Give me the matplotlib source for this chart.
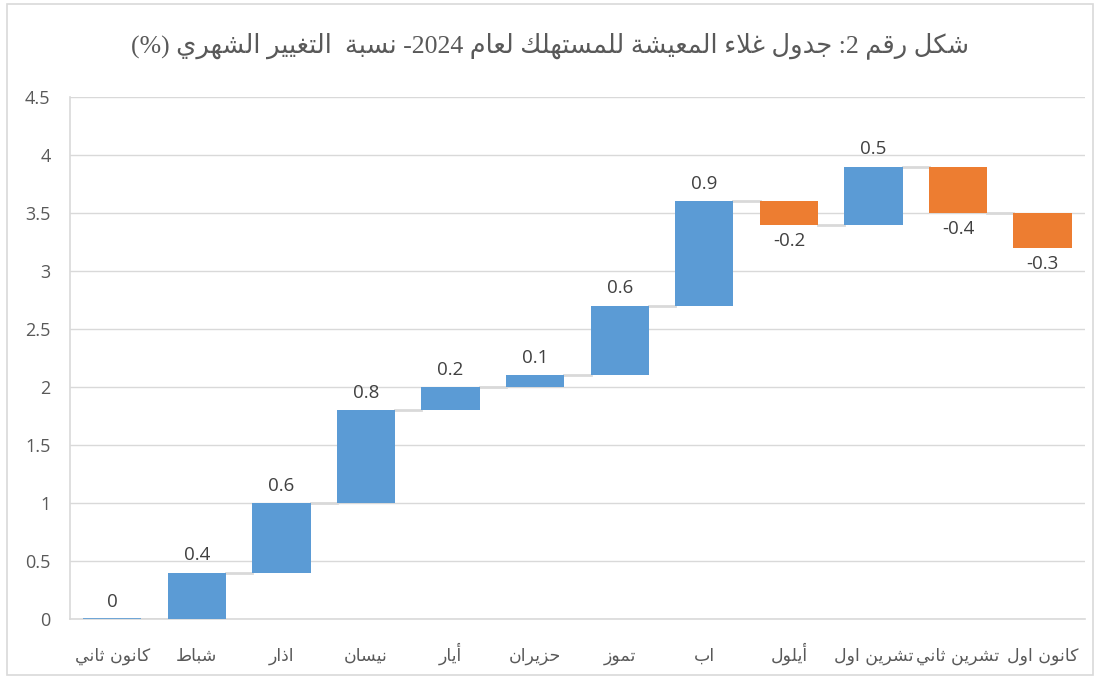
import re
import matplotlib
matplotlib.use('Agg')
import matplotlib.pyplot as plt
from matplotlib.patches import Rectangle
import numpy as np

# --- data ---
months = ['كانون ثاني', 'شباط', 'اذار', 'نيسان', 'أيار', 'حزيران',
          'تموز', 'اب', 'أيلول', 'تشرين اول', 'تشرين ثاني', 'كانون اول']
changes = [0, 0.4, 0.6, 0.8, 0.2, 0.1, 0.6, 0.9, -0.2, 0.5, -0.4, -0.3]
title = 'شكل رقم 2: جدول غلاء المعيشة للمستهلك لعام 2024- نسبة  التغيير الشهري (%)'
yticks = [0, 0.5, 1, 1.5, 2, 2.5, 3, 3.5, 4, 4.5]

# --- minimal arabic shaping + visual ordering (matplotlib has no bidi) ---
DUAL = {'ب': 0xFE8F, 'ت': 0xFE95, 'ث': 0xFE99, 'ج': 0xFE9D, 'ح': 0xFEA1, 'خ': 0xFEA5,
        'س': 0xFEB1, 'ش': 0xFEB5, 'ص': 0xFEB9, 'ض': 0xFEBD, 'ط': 0xFEC1, 'ظ': 0xFEC5,
        'ع': 0xFEC9, 'غ': 0xFECD, 'ف': 0xFED1, 'ق': 0xFED5, 'ك': 0xFED9, 'ل': 0xFEDD,
        'م': 0xFEE1, 'ن': 0xFEE5, 'ه': 0xFEE9, 'ي': 0xFEF1}
RIGHT = {'ا': 0xFE8D, 'أ': 0xFE83, 'د': 0xFEA9, 'ذ': 0xFEAB, 'ر': 0xFEAD, 'ز': 0xFEAF,
         'و': 0xFEED, 'ة': 0xFE93}
NONJOIN = {'ء': 0xFE80}
LAM_ALEF = {'ا': 0xFEFB, 'أ': 0xFEF7}
MIRROR = {'(': ')', ')': '('}


def jtype(item):
    if item[0] == 'LA' or item[0] in RIGHT:
        return 'R'
    if item[0] in DUAL:
        return 'D'
    if item[0] in NONJOIN:
        return 'U'
    return None


def ar(text):
    items = []
    i = 0
    while i < len(text):
        c = text[i]
        if c == 'ل' and i + 1 < len(text) and text[i + 1] in LAM_ALEF:
            items.append(('LA', text[i + 1]))
            i += 2
        else:
            items.append((c, None))
            i += 1
    shaped = ''
    for k, item in enumerate(items):
        t = jtype(item)
        prev_t = jtype(items[k - 1]) if k > 0 else None
        next_t = jtype(items[k + 1]) if k + 1 < len(items) else None
        jp = t in ('D', 'R') and prev_t == 'D'
        jn = t == 'D' and next_t in ('D', 'R')
        if item[0] == 'LA':
            shaped += chr(LAM_ALEF[item[1]] + (1 if jp else 0))
        elif t == 'D':
            form = 3 if (jp and jn) else 1 if jp else 2 if jn else 0
            shaped += chr(DUAL[item[0]] + form)
        elif t == 'R':
            shaped += chr(RIGHT[item[0]] + (1 if jp else 0))
        elif t == 'U':
            shaped += chr(NONJOIN[item[0]])
        else:
            shaped += item[0]
    tokens = re.findall(r'[0-9]+|.', shaped)
    return ''.join(MIRROR.get(t, t) for t in reversed(tokens))


# --- waterfall geometry ---
vals = np.array(changes)
ends = np.cumsum(vals)
starts = ends - vals
bottoms = np.minimum(starts, ends)
heights = np.abs(vals)
colors = ['#5B9BD5' if v >= 0 else '#ED7D31' for v in vals]
x = np.arange(len(months))
bar_w = 0.69

txt_color = '#595959'
grid_color = '#D9D9D9'
num_font = ['Open Sans', 'DejaVu Sans']

fig = plt.figure(figsize=(11, 6.78), dpi=100)
ax = fig.add_axes([0.0636, 0.087, 0.9227, 0.770])

ax.bar(x, heights, bar_w, bottom=bottoms, color=colors, zorder=3)
# zero-height first bar shows as a thin line
ax.hlines(0, x[0] - bar_w / 2, x[0] + bar_w / 2, color='#5B9BD5', lw=1.2, zorder=4)

# connectors
for i in range(len(x) - 1):
    ax.plot([x[i] + bar_w / 2, x[i + 1] - bar_w / 2], [ends[i], ends[i]],
            color=grid_color, lw=2, zorder=2)

# data labels
for i, v in enumerate(vals):
    lab = f'{v:g}'
    if v >= 0:
        ax.annotate(lab, (x[i], max(starts[i], ends[i])), xytext=(0, 6),
                    textcoords='offset points', ha='center', va='bottom',
                    fontsize=13.5, color='#404040', family=num_font)
    else:
        ax.annotate(lab, (x[i], min(starts[i], ends[i])), xytext=(0, -5),
                    textcoords='offset points', ha='center', va='top',
                    fontsize=13.5, color='#404040', family=num_font)

ax.set_xlim(-0.5, len(x) - 0.5)
ax.set_ylim(0, 4.5)
ax.set_yticks(yticks)
ax.set_yticklabels([f'{t:g}' for t in yticks], family=num_font, fontsize=13, color=txt_color)
ax.set_xticks(x)
ax.set_xticklabels([ar(m) for m in months], family=['DejaVu Sans'], fontsize=12.5, color=txt_color)
for lbl in ax.get_xticklabels():
    lbl.set_va('baseline')
ax.tick_params(axis='both', length=0)
ax.tick_params(axis='x', pad=30)
ax.tick_params(axis='y', pad=14)
ax.grid(True, axis='y', color=grid_color, lw=1, zorder=0)
for s in ['top', 'right']:
    ax.spines[s].set_visible(False)
for s in ['left', 'bottom']:
    ax.spines[s].set_color(grid_color)
    ax.spines[s].set_linewidth(1.2)

fig.text(0.5, 0.933, ar(title), ha='center', va='center', fontsize=18.5,
         color=txt_color, family=['Liberation Serif', 'DejaVu Sans'])

# outer chart border
fig.patches.append(Rectangle((0.006, 0.004), 0.988, 0.99, transform=fig.transFigure,
                             fill=False, edgecolor=grid_color, lw=1.2))

fig.savefig('out.png', dpi=100)
